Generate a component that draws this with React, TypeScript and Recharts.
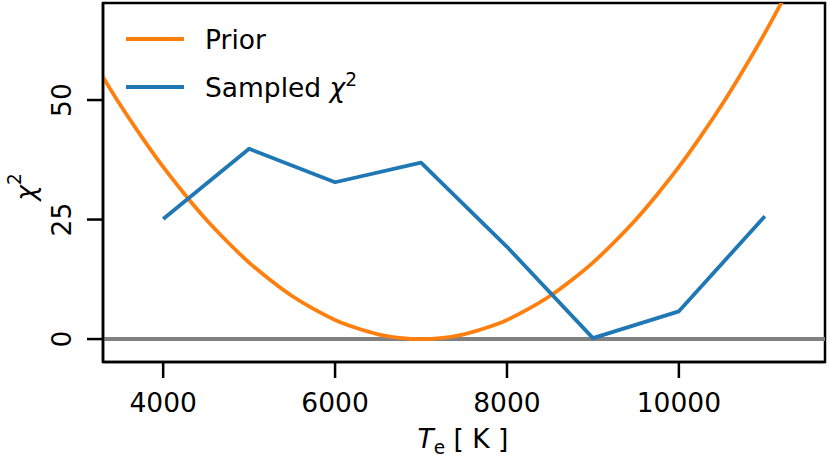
import React from "react";
import { LineChart, Line, XAxis, YAxis, ReferenceLine, ReferenceArea } from "recharts";

// Prior curve
const priorT = [
  3300, 3500, 3750, 4000, 4250, 4500, 4750, 5000, 5250, 5500, 5750, 6000, 6250, 6500, 6750, 7000,
  7250, 7500, 7750, 8000, 8250, 8500, 8750, 9000, 9250, 9500, 9750, 10000, 10250, 10500, 10750,
  11000, 11250, 11500, 11700,
];
const priorChi2 = [
  54.8, 49, 42.3, 36, 30.3, 25, 20.3, 16, 12.3, 9, 6.3, 4, 2.3, 1, 0.25, 0, 0.25, 1, 2.3, 4, 6.3,
  9, 12.3, 16, 20.3, 25, 30.3, 36, 42.3, 49, 56.3, 64, 72.3, 81, 88.4,
];

// Sampled chi^2 points
const sampledT = [4000, 5000, 6000, 7000, 8000, 9000, 10000, 11000];
const sampledChi2 = [25.1, 39.8, 32.8, 36.9, 19.3, 0.2, 5.8, 25.7];

const xTicks = [4000, 6000, 8000, 10000];
const yTicks = [0, 25, 50];

const ORANGE = "#ff7f0e";
const BLUE = "#1f77b4";
const FONT = "DejaVu Sans";
const FS = 26.5;

const priorData = priorT.map((t, i) => ({ t, v: priorChi2[i] }));
const sampledData = sampledT.map((t, i) => ({ t, v: sampledChi2[i] }));

const XTick = ({ x, y, payload }: any) => (
  <text x={x} y={y + 32} textAnchor="middle" fontFamily={FONT} fontSize={FS} fill="#000">
    {payload.value}
  </text>
);

const YTick = ({ x, y, payload }: any) => {
  const cx = x - 23;
  return (
    <text
      x={cx}
      y={y}
      transform={`rotate(-90, ${cx}, ${y})`}
      textAnchor="middle"
      dominantBaseline="central"
      fontFamily={FONT}
      fontSize={FS}
      fill="#000"
    >
      {payload.value}
    </text>
  );
};

const LegendBox = () => {
  const items = [
    { color: ORANGE, label: <tspan>Prior</tspan> },
    {
      color: BLUE,
      label: (
        <>
          <tspan>Sampled </tspan>
          <tspan fontStyle="italic">χ</tspan>
          <tspan fontSize={FS * 0.7} dy={-11}>2</tspan>
        </>
      ),
    },
  ];
  return (
    <svg width={320} height={100} style={{ position: "absolute", left: 120, top: 23 }}>
      {items.map((it, i) => (
        <g key={i}>
          <line x1={6} x2={64} y1={16 + i * 48} y2={16 + i * 48} stroke={it.color} strokeWidth={3.8} />
          <text x={85} y={26 + i * 48} fontFamily={FONT} fontSize={FS} fill="#000">
            {it.label}
          </text>
        </g>
      ))}
    </svg>
  );
};

export default function App() {
  return (
    <div style={{ position: "absolute", left: 0, top: 0, width: 830, height: 461, background: "#fff" }}>
      <LineChart width={830} height={461} margin={{ top: 3, right: 5, left: 0, bottom: 0 }}>
        <XAxis
          dataKey="t"
          type="number"
          domain={[3300, 11700]}
          ticks={xTicks}
          allowDataOverflow
          height={99}
          tickSize={16}
          tick={<XTick />}
          axisLine={{ stroke: "#000", strokeWidth: 2.5 }}
          tickLine={{ stroke: "#000", strokeWidth: 2.5 }}
          label={{
            content: () => (
              <text x={463} y={448} textAnchor="middle" fontFamily={FONT} fontSize={FS} fill="#000">
                <tspan fontStyle="italic">T</tspan>
                <tspan fontSize={FS * 0.7} dy={6}>e</tspan>
                <tspan dy={-6}> [ K ]</tspan>
              </text>
            ),
          }}
        />
        <YAxis
          type="number"
          domain={[-4.8, 70.3]}
          ticks={yTicks}
          allowDataOverflow
          width={103}
          tickSize={16}
          tick={<YTick />}
          axisLine={{ stroke: "#000", strokeWidth: 2.5 }}
          tickLine={{ stroke: "#000", strokeWidth: 2.5 }}
          label={{
            content: () => (
              <text
                x={25}
                y={187}
                transform="rotate(-90, 25, 187)"
                textAnchor="middle"
                dominantBaseline="central"
                fontFamily={FONT}
                fontSize={FS}
                fill="#000"
              >
                <tspan fontStyle="italic">χ</tspan>
                <tspan fontSize={FS * 0.7} dy={-11}>2</tspan>
              </text>
            ),
          }}
        />
        <ReferenceArea x1={3300} x2={11700} y1={-4.8} y2={70.3} fill="none" stroke="#000" strokeWidth={2.5} />
        <ReferenceLine y={0} stroke="#808080" strokeWidth={4} />
        <Line
          data={priorData}
          dataKey="v"
          type="monotone"
          stroke={ORANGE}
          strokeWidth={3.8}
          dot={false}
          activeDot={false}
          isAnimationActive={false}
        />
        <Line
          data={sampledData}
          dataKey="v"
          type="linear"
          stroke={BLUE}
          strokeWidth={3.8}
          strokeLinejoin="round"
          dot={false}
          activeDot={false}
          isAnimationActive={false}
        />
      </LineChart>
      <LegendBox />
    </div>
  );
}
